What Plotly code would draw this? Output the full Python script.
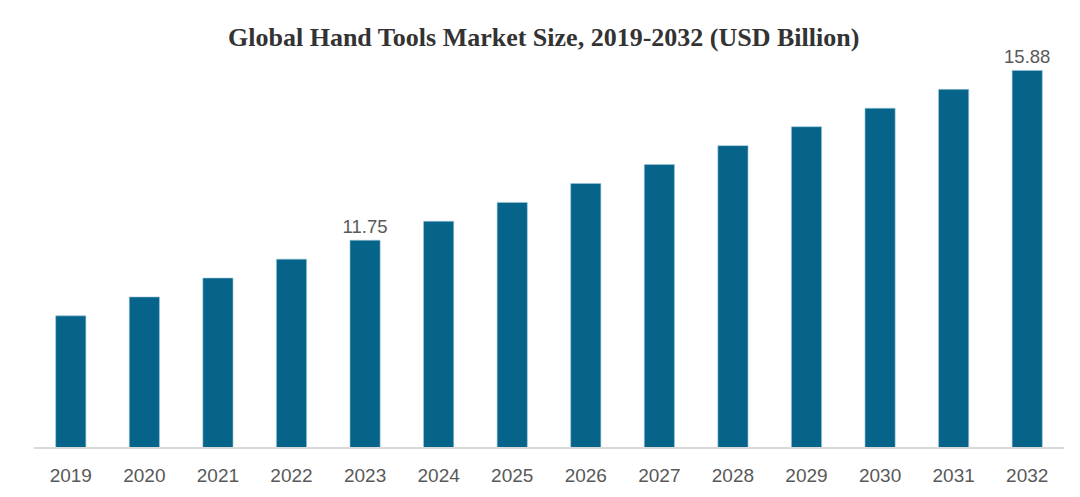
import plotly.graph_objects as go

years = ["2019", "2020", "2021", "2022", "2023", "2024", "2025",
         "2026", "2027", "2028", "2029", "2030", "2031", "2032"]
values = [9.91, 10.37, 10.83, 11.29, 11.75, 12.21, 12.67,
          13.13, 13.59, 14.05, 14.51, 14.96, 15.42, 15.88]
labeled_years = ["2023", "2032"]
labels = [f"{v:.2f}" if y in labeled_years else "" for y, v in zip(years, values)]

fig = go.Figure(go.Bar(
    x=years, y=values,
    marker=dict(color="#06638a", line=dict(color="#9cc6da", width=0.6)),
    text=labels, textposition="outside", cliponaxis=False, constraintext="none",
    textfont=dict(family="Liberation Sans, Arial", size=18.5, color="#595959"),
    hoverinfo="skip",
))

fig.update_layout(
    width=1080, height=497,
    margin=dict(l=26, r=24, t=52, b=58),
    paper_bgcolor="white", plot_bgcolor="white",
    bargap=0.59,
    showlegend=False,
    title=dict(
        text="<b>Global Hand Tools Market Size, 2019-2032 (USD Billion)</b>",
        x=0.496, xanchor="center", y=0.942, yanchor="middle",
        font=dict(family="Liberation Serif, Times New Roman", size=26, color="#333333"),
    ),
    xaxis=dict(
        type="category", showgrid=False, showline=True, linecolor="#d9d9d9", linewidth=1.5,
        ticks="outside", ticklen=10, tickcolor="rgba(0,0,0,0)",
        tickfont=dict(family="Liberation Sans, Arial", size=19, color="#595959"),
        range=[-0.5, 13.5],
    ),
    yaxis=dict(visible=False, range=[6.72, 16.134], showgrid=False, zeroline=False),
)

fig.write_html("out.html")
